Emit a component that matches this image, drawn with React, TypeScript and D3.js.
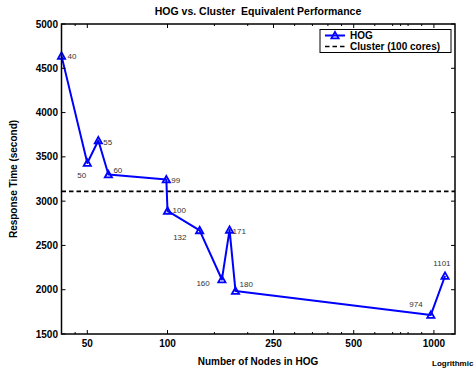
import React from "react";
import * as d3 from "d3";

const nodes = [40, 50, 55, 60, 99, 100, 132, 160, 171, 180, 974, 1101];
const responseTime = [4640, 3430, 3685, 3300, 3245, 2890, 2670, 2115, 2675, 1985, 1715, 2155];
const clusterTime = 3110;
const xMajorTicks = [50, 100, 250, 500, 1000];
const xMinorTicks = [45, 150, 200, 300, 350, 400, 450, 600, 700, 750, 800, 900];
const yTicks = [1500, 2000, 2500, 3000, 3500, 4000, 4500, 5000];
const labelOffsets: [number, number][] = [
  [6, 3], [-10, 15], [5, 5], [5, -2], [5, 4], [5, 2],
  [-26.5, 10], [-25.5, 6.5], [3, 4], [4, -4], [-21.5, -7.5], [-11.7, -9.7],
];

const W = 476, H = 369;
const M = { left: 61.5, right: 455, top: 24, bottom: 334 };
const FONT = "'Liberation Sans', Arial, Helvetica, sans-serif";

function tri(x: number, y: number, s = 3.6) {
  return `M${x},${y - s}L${x + s},${y + s * 0.8}L${x - s},${y + s * 0.8}Z`;
}

export default function App() {
  const x = d3.scaleLog().domain([40, 1200]).range([M.left, M.right]);
  const y = d3.scaleLinear().domain([1500, 5000]).range([M.bottom, M.top]);
  const line = d3
    .line<number>()
    .x((_, i) => x(nodes[i]))
    .y((d) => y(d));
  const blue = "#0000ff";

  return (
    <div style={{ position: "fixed", left: 0, top: 0 }}>
      <svg width={W} height={H} style={{ display: "block", background: "#fff" }} fontFamily={FONT}>
        <rect x={0} y={0} width={W} height={H} fill="#fff" />
        {/* title */}
        <text
          x={258}
          y={15}
          textAnchor="middle"
          fontSize={10.5}
          fontWeight="bold"
          fill="#000"
          style={{ whiteSpace: "pre" }}
        >
          {"HOG vs. Cluster  Equivalent Performance"}
        </text>
        {/* cluster dashed line */}
        <line
          x1={M.left}
          x2={M.right}
          y1={y(clusterTime)}
          y2={y(clusterTime)}
          stroke="#000"
          strokeWidth={1.6}
          strokeDasharray="4.5,3"
        />
        {/* HOG line */}
        <path d={line(responseTime) || ""} fill="none" stroke={blue} strokeWidth={2} strokeLinejoin="round" />
        {responseTime.map((v, i) => (
          <path key={"m" + i} d={tri(x(nodes[i]), y(v))} fill="none" stroke={blue} strokeWidth={1.8} />
        ))}
        {responseTime.map((v, i) => (
          <text
            key={"l" + i}
            x={x(nodes[i]) + labelOffsets[i][0]}
            y={y(v) + labelOffsets[i][1]}
            fontSize={8}
            fill="#333"
          >
            {nodes[i]}
          </text>
        ))}
        {/* axes box */}
        <rect
          x={M.left}
          y={M.top}
          width={M.right - M.left}
          height={M.bottom - M.top}
          fill="none"
          stroke="#000"
          strokeWidth={1.5}
        />
        {/* x ticks */}
        {xMajorTicks.map((t) => (
          <g key={"xt" + t}>
            <line x1={x(t)} x2={x(t)} y1={M.bottom} y2={M.bottom - 4} stroke="#000" strokeWidth={1} />
            <line x1={x(t)} x2={x(t)} y1={M.top} y2={M.top + 4} stroke="#000" strokeWidth={1} />
            <text x={x(t)} y={347} textAnchor="middle" fontSize={10} fontWeight="bold">
              {t}
            </text>
          </g>
        ))}
        {xMinorTicks.map((t) => (
          <g key={"xm" + t}>
            <line x1={x(t)} x2={x(t)} y1={M.bottom} y2={M.bottom - 2} stroke="#000" strokeWidth={1} />
            <line x1={x(t)} x2={x(t)} y1={M.top} y2={M.top + 2} stroke="#000" strokeWidth={1} />
          </g>
        ))}
        {/* y ticks */}
        {yTicks.map((t) => (
          <g key={"yt" + t}>
            <line x1={M.left} x2={M.left + 4} y1={y(t)} y2={y(t)} stroke="#000" strokeWidth={1} />
            <line x1={M.right} x2={M.right - 4} y1={y(t)} y2={y(t)} stroke="#000" strokeWidth={1} />
            <text x={58} y={y(t) + 3.5} textAnchor="end" fontSize={10} fontWeight="bold">
              {t}
            </text>
          </g>
        ))}
        {/* axis labels */}
        <text x={258} y={365} textAnchor="middle" fontSize={10} fontWeight="bold">
          Number of Nodes in HOG
        </text>
        <text
          transform={`translate(17,${(M.top + M.bottom) / 2}) rotate(-90)`}
          textAnchor="middle"
          fontSize={10}
          fontWeight="bold"
        >
          Response Time (second)
        </text>
        <text x={432} y={366} fontSize={8} fontWeight="bold">
          Logrithmic
        </text>
        {/* legend */}
        <rect x={320} y={29.5} width={131} height={23} fill="#fff" stroke="#000" strokeWidth={1} />
        <line x1={325} x2={345} y1={35.5} y2={35.5} stroke={blue} strokeWidth={2} />
        <path d={tri(335, 35.5)} fill="none" stroke={blue} strokeWidth={1.8} />
        <text x={350} y={39} fontSize={10} fontWeight="bold">
          HOG
        </text>
        <line x1={325} x2={345} y1={46.5} y2={46.5} stroke="#000" strokeWidth={1.6} strokeDasharray="4.5,3" />
        <text x={350} y={50} fontSize={10} fontWeight="bold">
          Cluster (100 cores)
        </text>
      </svg>
    </div>
  );
}
